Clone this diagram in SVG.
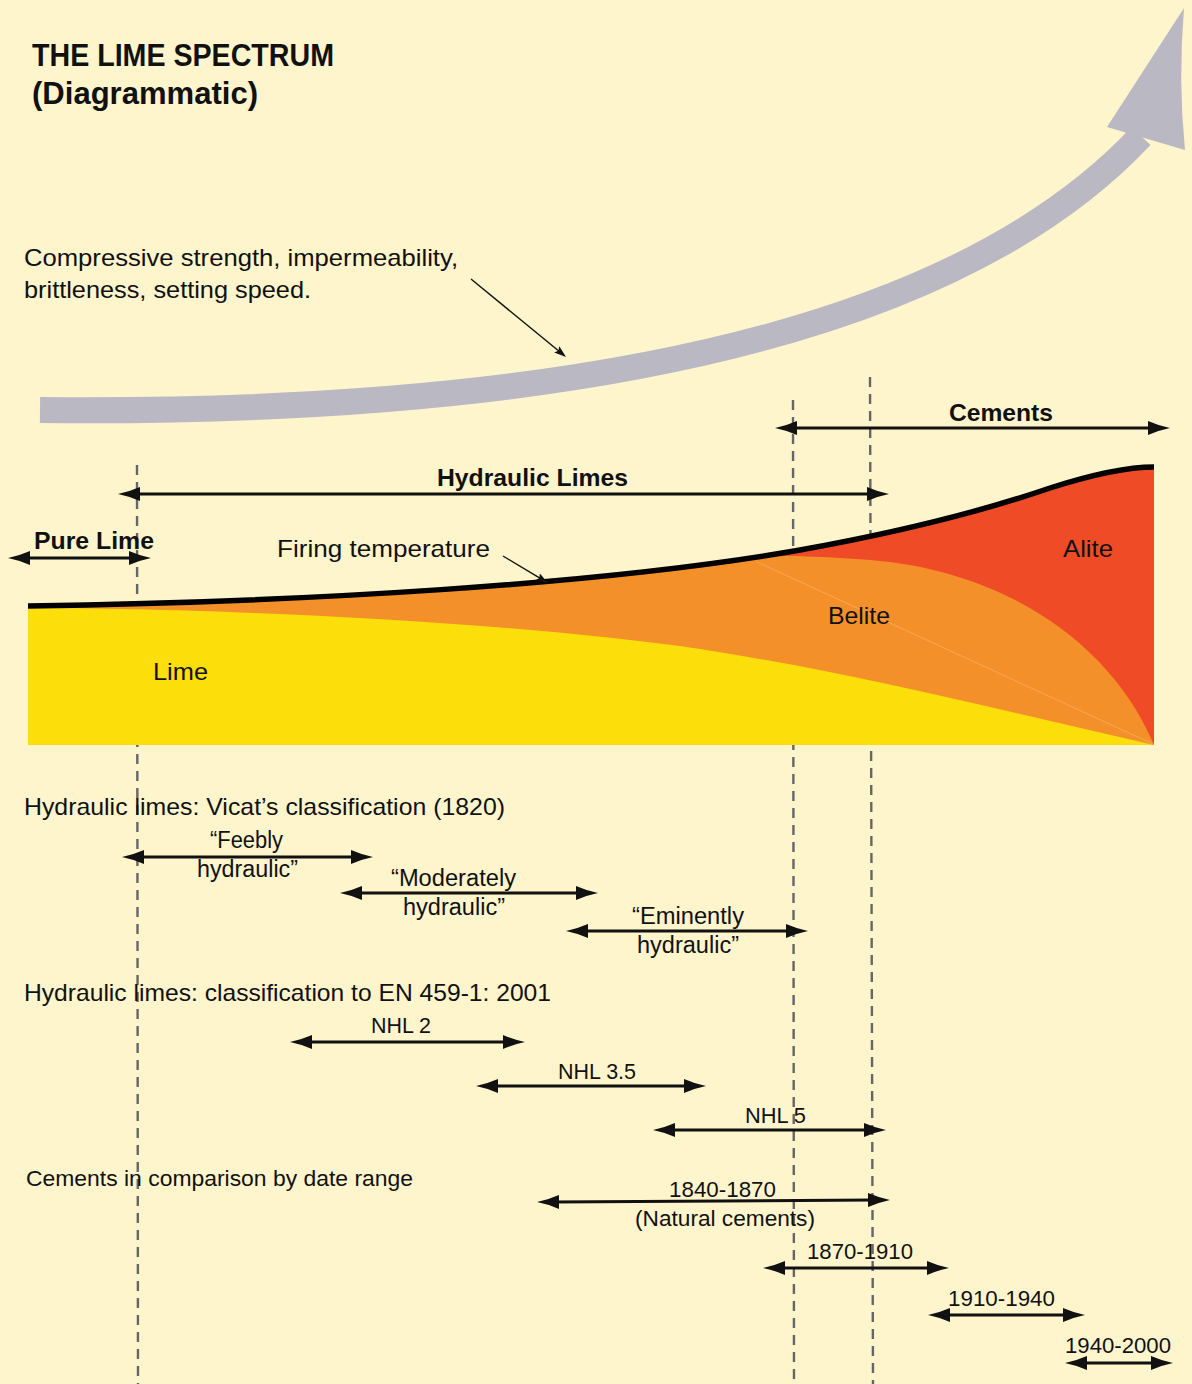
<svg xmlns="http://www.w3.org/2000/svg" width="1192" height="1384" viewBox="0 0 1192 1384">
<style>
text{font-family:"Liberation Sans",Arial,sans-serif;fill:#111;font-size:23px}
.b{font-weight:bold}
.s{font-size:22px}
.m{font-size:24px}
.t{font-size:31px;font-weight:bold}
.dash{stroke:#666;stroke-width:2.4;stroke-dasharray:10 7;fill:none}
.dbl{stroke:#111;stroke-width:3;fill:none;marker-start:url(#ah);marker-end:url(#ah)}
.ptr{stroke:#111;stroke-width:1.4;fill:none;marker-end:url(#sa)}
</style>
<defs>
<marker id="ah" viewBox="0 0 22 14" refX="5" refY="7" markerWidth="22" markerHeight="14" markerUnits="userSpaceOnUse" orient="auto-start-reverse">
<path d="M22,7 Q11,4.8 0,0 L0,14 Q11,9.2 22,7 Z" fill="#111"/>
</marker>
<marker id="sa" viewBox="0 0 12 8" refX="3" refY="4" markerWidth="12" markerHeight="8" markerUnits="userSpaceOnUse" orient="auto">
<path d="M12,4 L0,0 L2,4 L0,8 Z" fill="#111"/>
</marker>
</defs>
<rect width="1192" height="1384" fill="#FEF5CC"/>

<g id="title">
<text class="t" x="32" y="66" textLength="302" lengthAdjust="spacingAndGlyphs">THE LIME SPECTRUM</text>
<text class="t" x="32" y="104" textLength="226" lengthAdjust="spacingAndGlyphs">(Diagrammatic)</text>
</g>

<g id="big-arrow">
<path d="M40,410 C550,415 950,340 1141,136" stroke="#B9B8C3" stroke-width="26" fill="none"/>
<path d="M1107,127 L1184,8 Q1178,80 1185,150 Z" fill="#B9B8C3"/>
</g>

<g id="properties-label">
<text class="m" x="24" y="266" textLength="434" lengthAdjust="spacingAndGlyphs">Compressive strength, impermeability,</text>
<text class="m" x="24" y="298" textLength="287" lengthAdjust="spacingAndGlyphs">brittleness, setting speed.</text>
</g>

<g id="guides">
<line class="dash" x1="137" y1="465" x2="138" y2="1384"/>
<line class="dash" x1="793" y1="400" x2="794" y2="1384"/>
<line class="dash" x1="870" y1="377" x2="873" y2="1384"/>
</g>

<g id="chart">
<path id="orange" d="M28,606 C300,602 600,585 800,550 C900,532 980,512 1050,488 C1100,472 1130,467 1154,467 L1154,745 L28,745 Z" fill="#F4902A"/>
<path id="yellow" d="M28,608 C200,608 500,620 700,649 C850,672 1000,710 1154,745 L28,745 Z" fill="#FCDE0A"/>
<path id="red" d="M765,556 C780,553 790,551 800,550 C900,532 980,512 1050,488 C1100,472 1130,467 1154,467 L1154,745 C1110,640 1000,570 870,560 C820,556 790,556 765,556 Z" fill="#EF4B26"/>
<line x1="757" y1="562" x2="1153" y2="744" stroke="#F9C27F" stroke-width="0.7" opacity="0.7"/>
<path id="firing-curve" d="M28,606 C300,602 600,585 800,550 C900,532 980,512 1050,488 C1100,472 1130,467 1154,467" stroke="#000" stroke-width="5.5" fill="none"/>
<text class="m" x="153" y="680" textLength="55" lengthAdjust="spacingAndGlyphs">Lime</text>
<text class="m" x="828" y="624" textLength="62" lengthAdjust="spacingAndGlyphs">Belite</text>
<text class="m" x="1063" y="557" textLength="50" lengthAdjust="spacingAndGlyphs">Alite</text>
</g>

<g id="range-labels">
<text class="m b" x="34" y="549" textLength="120" lengthAdjust="spacingAndGlyphs">Pure Lime</text>
<text class="m b" x="437" y="486" textLength="191" lengthAdjust="spacingAndGlyphs">Hydraulic Limes</text>
<text class="m b" x="949" y="421" textLength="104" lengthAdjust="spacingAndGlyphs">Cements</text>
<text class="m" x="277" y="557" textLength="213" lengthAdjust="spacingAndGlyphs">Firing temperature</text>
</g>

<g id="vicat">
<text class="m" x="24" y="815" textLength="481" lengthAdjust="spacingAndGlyphs">Hydraulic limes: Vicat’s classification (1820)</text>
<text x="210" y="848" textLength="73" lengthAdjust="spacingAndGlyphs">“Feebly</text>
<text x="197" y="877" textLength="101" lengthAdjust="spacingAndGlyphs">hydraulic”</text>
<text x="391" y="886" textLength="125" lengthAdjust="spacingAndGlyphs">“Moderately</text>
<text x="403" y="915" textLength="102" lengthAdjust="spacingAndGlyphs">hydraulic”</text>
<text x="632" y="924" textLength="112" lengthAdjust="spacingAndGlyphs">“Eminently</text>
<text x="637" y="953" textLength="102" lengthAdjust="spacingAndGlyphs">hydraulic”</text>
</g>

<g id="en459">
<text class="m" x="24" y="1001" textLength="527" lengthAdjust="spacingAndGlyphs">Hydraulic limes: classification to EN 459-1: 2001</text>
<text class="s" x="371" y="1033" textLength="60" lengthAdjust="spacingAndGlyphs">NHL 2</text>
<text class="s" x="558" y="1079" textLength="78" lengthAdjust="spacingAndGlyphs">NHL 3.5</text>
<text class="s" x="745" y="1123" textLength="61" lengthAdjust="spacingAndGlyphs">NHL 5</text>
</g>

<g id="cement-dates">
<text class="s" x="26" y="1186" textLength="387" lengthAdjust="spacingAndGlyphs">Cements in comparison by date range</text>
<text class="s" x="669" y="1197" textLength="107" lengthAdjust="spacingAndGlyphs">1840-1870</text>
<text class="s" x="635" y="1226" textLength="180" lengthAdjust="spacingAndGlyphs">(Natural cements)</text>
<text class="s" x="807" y="1259" textLength="106" lengthAdjust="spacingAndGlyphs">1870-1910</text>
<text class="s" x="948" y="1306" textLength="107" lengthAdjust="spacingAndGlyphs">1910-1940</text>
<text class="s" x="1065" y="1353" textLength="106" lengthAdjust="spacingAndGlyphs">1940-2000</text>
</g>

<g id="connectors">
<line class="ptr" x1="471" y1="279" x2="559.1" y2="351.3"/>
<line class="ptr" x1="503" y1="556" x2="540.3" y2="578.4"/>
<line class="dbl" x1="25" y1="558" x2="134" y2="558"/>
<line class="dbl" x1="135" y1="494" x2="872" y2="494"/>
<line class="dbl" x1="792" y1="428" x2="1153" y2="428"/>
<line class="dbl" x1="139" y1="857" x2="356" y2="857"/>
<line class="dbl" x1="357" y1="893" x2="581" y2="893"/>
<line class="dbl" x1="583" y1="931" x2="791" y2="931"/>
<line class="dbl" x1="307" y1="1042" x2="508" y2="1042"/>
<line class="dbl" x1="493" y1="1086" x2="689" y2="1086"/>
<line class="dbl" x1="670" y1="1130" x2="869" y2="1130"/>
<line class="dbl" x1="554" y1="1202" x2="873" y2="1200"/>
<line class="dbl" x1="780" y1="1268" x2="932" y2="1268"/>
<line class="dbl" x1="945" y1="1315" x2="1068" y2="1315"/>
<line class="dbl" x1="1082" y1="1363" x2="1156" y2="1363"/>
</g>
</svg>
